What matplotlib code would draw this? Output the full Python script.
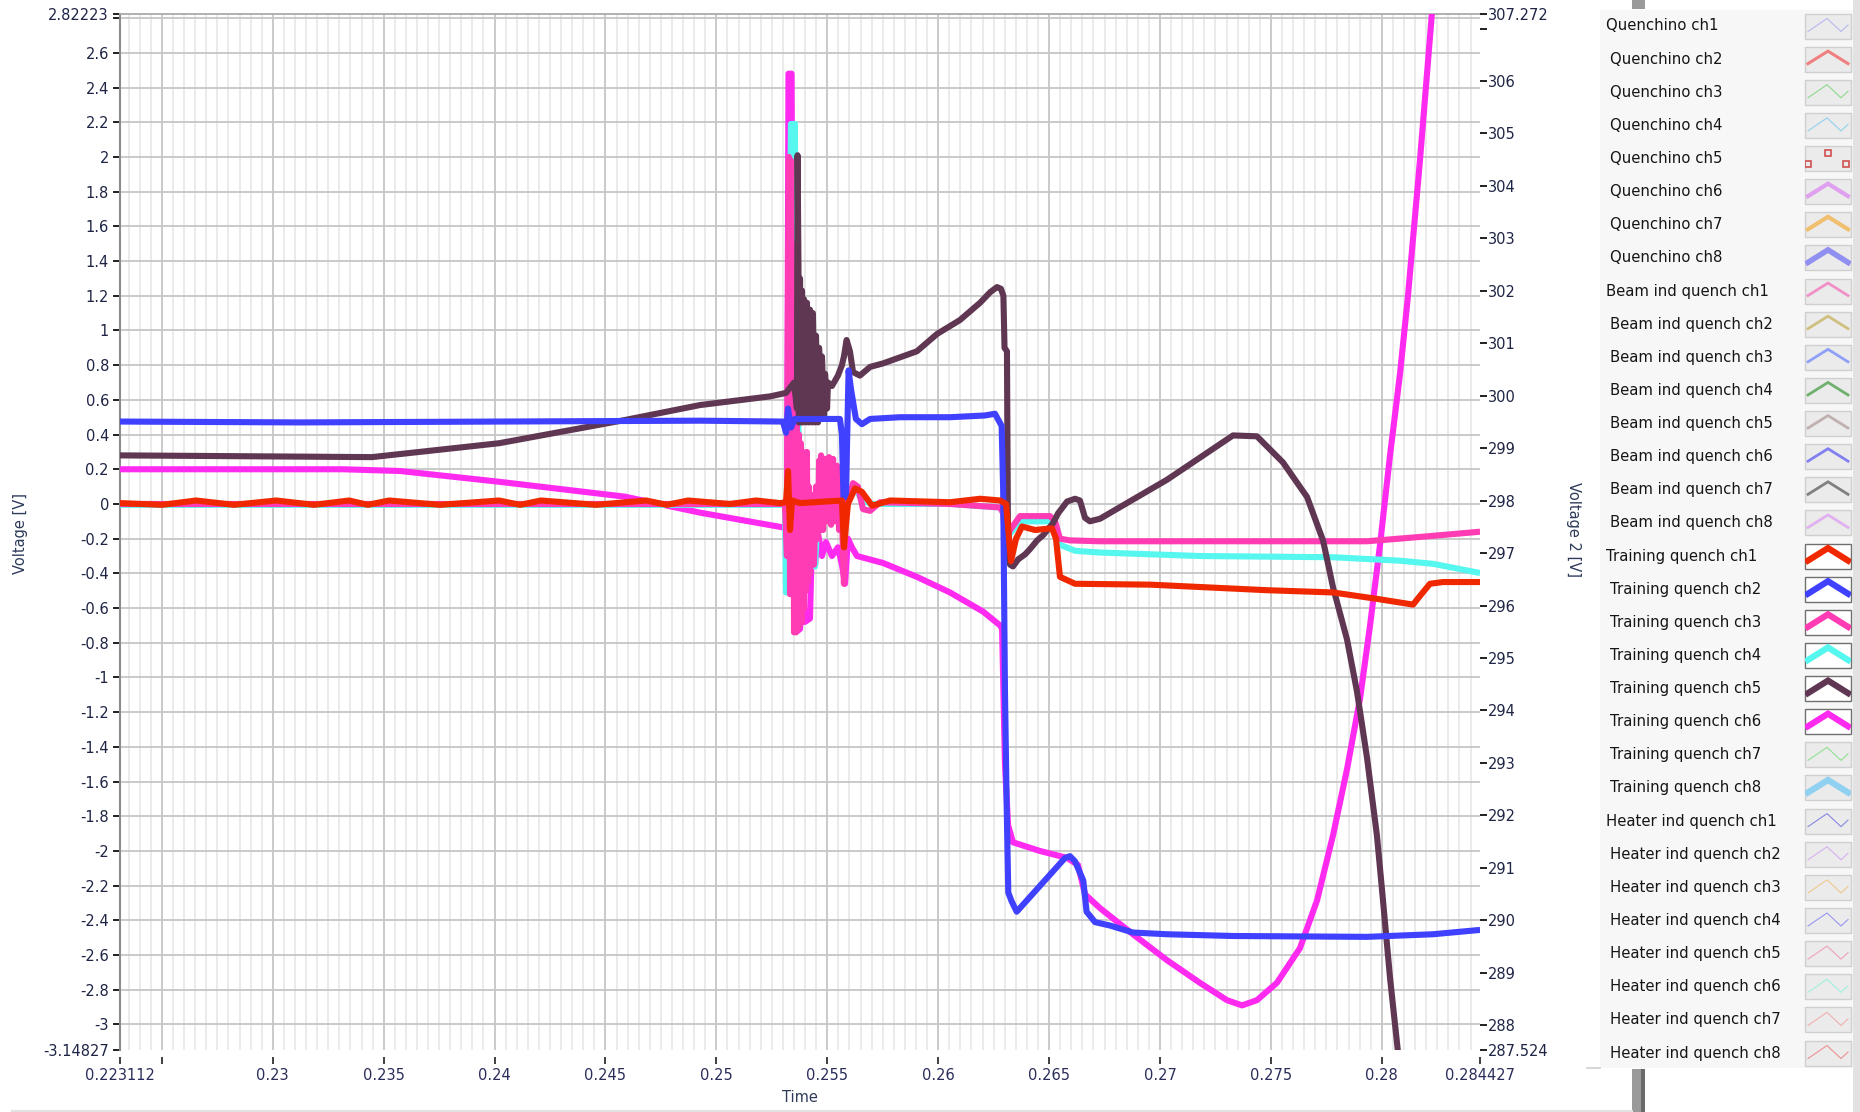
import matplotlib
matplotlib.use("Agg")
import matplotlib.pyplot as plt
from matplotlib.patches import Rectangle

plt.rcParams['font.family'] = ['DejaVu Sans']

# ---------------- data (time [s], voltage [V]) ----------------
t_ch1 = [0.22311, 0.22501, 0.22654, 0.22825, 0.23015, 0.23186, 0.23344, 0.23429, 0.23524, 0.23754,
         0.24020, 0.24115, 0.24209, 0.24457, 0.24683, 0.24777, 0.24872, 0.25061, 0.25179, 0.25287,
         0.25314, 0.25323, 0.25332, 0.25341, 0.25377, 0.25566, 0.25575,
         0.25593, 0.25625, 0.25656, 0.25702, 0.25783, 0.26053, 0.26189, 0.26279, 0.26306, 0.26328,
         0.26351, 0.26378, 0.26437, 0.26513, 0.26531, 0.26549, 0.26617, 0.26955, 0.27482, 0.27780,
         0.27978, 0.28141, 0.28172, 0.28217, 0.28276, 0.28443]
v_ch1 = [0.005, -0.005, 0.02, -0.005, 0.02, -0.005, 0.02, -0.005, 0.02, -0.005,
         0.02, -0.005, 0.02, -0.005, 0.02, -0.005, 0.02, 0.0, 0.02, 0.005,
         0.01, 0.19, -0.15, 0.02, 0.005, 0.02, -0.25,
         0.0, 0.09, 0.07, -0.01, 0.02, 0.01, 0.03, 0.02, 0.0, -0.33,
         -0.2, -0.13, -0.15, -0.14, -0.2, -0.42, -0.46, -0.465, -0.497, -0.51,
         -0.547, -0.58, -0.53, -0.46, -0.45, -0.45]

t_ch2 = [0.22311, 0.23123, 0.24024, 0.24926, 0.25300, 0.25314, 0.25323, 0.25336, 0.25354, 0.25557,
         0.25566, 0.25573, 0.25584, 0.25596, 0.25607, 0.25629, 0.25656, 0.25693, 0.25828, 0.26053,
         0.26211, 0.26256, 0.26286, 0.26293, 0.26301, 0.26309, 0.26316, 0.26331, 0.26354, 0.26572,
         0.26594, 0.26617, 0.26654, 0.26669, 0.26707, 0.26775, 0.26878, 0.27032, 0.27329, 0.27933,
         0.28231, 0.28443]
v_ch2 = [0.475, 0.47, 0.475, 0.48, 0.475, 0.41, 0.55, 0.44, 0.49, 0.49,
         0.4, 0.04, 0.04, 0.77, 0.66, 0.49, 0.46, 0.49, 0.5, 0.5,
         0.51, 0.52, 0.45, 0.08, -1.075, -1.76, -2.24, -2.29, -2.35, -2.04,
         -2.03, -2.06, -2.17, -2.35, -2.41, -2.43, -2.47, -2.48, -2.49, -2.495,
         -2.48, -2.455]

t_ch3 = [0.22311, 0.25309, 0.25318, 0.25323, 0.25327, 0.25332, 0.25336, 0.25341, 0.25345, 0.25350,
         0.25354, 0.25359, 0.25363, 0.25368, 0.25372, 0.25377, 0.25381, 0.25386, 0.25390, 0.25395,
         0.25399, 0.25404, 0.25408, 0.25413, 0.25417, 0.25422, 0.25431, 0.25440, 0.25449, 0.25458,
         0.25463, 0.25467, 0.25472, 0.25481, 0.25490, 0.25499, 0.25508, 0.25517, 0.25526, 0.25535,
         0.25544, 0.25553, 0.25562, 0.25571, 0.25575, 0.25584, 0.25598, 0.25616, 0.25638, 0.25661,
         0.25693, 0.25738, 0.26053, 0.26279, 0.26292, 0.26306, 0.26324, 0.26369, 0.26504, 0.26527,
         0.26549, 0.26594, 0.26730, 0.27933, 0.28172, 0.28443]
v_ch3 = [0.0, 0.0, -0.3, 1.2, 2.0, -0.52, 1.98, -0.4, 1.5, -0.74,
         0.48, -0.74, 0.45, -0.72, 0.4, -0.7, 0.35, -0.68, 0.3, -0.6,
         0.25, -0.5, 0.3, -0.45, 0.1, -0.4, 0.05, -0.35, 0.1, -0.2,
         0.25, -0.15, 0.28, -0.15, 0.26, -0.1, 0.27, -0.12, 0.26, -0.1,
         0.22, -0.15, 0.15, -0.3, -0.46, 0.0, 0.03, 0.12, 0.1, -0.03,
         -0.04, 0.01, 0.0, -0.02, -0.05, -0.2, -0.15, -0.07, -0.07, -0.1,
         -0.2, -0.21, -0.215, -0.215, -0.19, -0.16]

t_ch4 = [0.22311, 0.25309, 0.25314, 0.25323, 0.25327, 0.25336, 0.25354, 0.25359, 0.25363, 0.25368,
         0.25372, 0.25386, 0.25390, 0.25399, 0.25408, 0.25422, 0.25435, 0.25445, 0.25458, 0.25476,
         0.25494, 0.25512, 0.25530, 0.25548, 0.25566, 0.25575, 0.25584, 0.25602, 0.25625, 0.25647,
         0.25693, 0.26053, 0.26279, 0.26292, 0.26306, 0.26324, 0.26369, 0.26504, 0.26527, 0.26549,
         0.26617, 0.26730, 0.27180, 0.27780, 0.28082, 0.28231, 0.28443]
v_ch4 = [-0.005, -0.005, -0.51, -0.51, 0.5, 2.19, 2.19, 0.7, 0.64, 0.7,
         0.2, -0.3, -0.36, -0.1, 0.05, 0.0, -0.3, -0.36, 0.0, 0.22,
         0.1, 0.2, 0.1, 0.15, 0.05, -0.2, 0.05, 0.08, 0.1, 0.04,
         0.0, 0.0, -0.02, -0.05, -0.2, -0.17, -0.1, -0.1, -0.15, -0.235,
         -0.27, -0.28, -0.30, -0.307, -0.327, -0.345, -0.398]

t_ch5 = [0.22311, 0.23447, 0.24020, 0.24588, 0.24926, 0.25242, 0.25314, 0.25350, 0.25363, 0.25366,
         0.25370, 0.25372, 0.25377, 0.25381, 0.25386, 0.25390, 0.25395, 0.25404, 0.25408, 0.25417,
         0.25422, 0.25431, 0.25435, 0.25445, 0.25449, 0.25458, 0.25463, 0.25472, 0.25476, 0.25485,
         0.25490, 0.25499, 0.25503, 0.25521, 0.25548, 0.25566, 0.25575, 0.25587, 0.25602, 0.25616,
         0.25647, 0.25693, 0.25751, 0.25904, 0.25995, 0.26098, 0.26189, 0.26234, 0.26265, 0.26283,
         0.26294, 0.26299, 0.26310, 0.26315, 0.26324, 0.26337, 0.26360, 0.26392, 0.26414, 0.26446,
         0.26473, 0.26518, 0.26540, 0.26581, 0.26617, 0.26639, 0.26662, 0.26684, 0.26730, 0.27032,
         0.27329, 0.27437, 0.27554, 0.27663, 0.27735, 0.27780, 0.27843, 0.27888, 0.27933, 0.27978,
         0.28005, 0.28037, 0.28073, 0.28105]
v_ch5 = [0.28, 0.27, 0.35, 0.484, 0.57, 0.62, 0.64, 0.70, 0.55, 2.01,
         1.37, 0.47, 1.3, 0.47, 1.23, 0.47, 1.18, 0.47, 1.16, 0.47,
         1.12, 0.47, 1.1, 0.47, 0.97, 0.47, 0.9, 0.5, 0.85, 0.5,
         0.75, 0.55, 0.7, 0.68, 0.74, 0.8, 0.85, 0.945, 0.88, 0.76,
         0.74, 0.79, 0.81, 0.88, 0.98, 1.06, 1.16, 1.22, 1.25, 1.24,
         1.2, 0.9, 0.88, -0.28, -0.35, -0.36, -0.32, -0.29, -0.26, -0.21,
         -0.18, -0.11, -0.055, 0.014, 0.03, 0.02, -0.08, -0.1, -0.085, 0.14,
         0.395, 0.39, 0.24, 0.04, -0.21, -0.48, -0.78, -1.08, -1.46, -1.91,
         -2.28, -2.73, -3.16, -3.6]

t_ch6 = [0.22311, 0.23317, 0.23574, 0.24020, 0.24588, 0.24926, 0.25300, 0.25318, 0.25325, 0.25339,
         0.25345, 0.25354, 0.25363, 0.25377, 0.25390, 0.25399, 0.25422, 0.25431, 0.25445, 0.25458,
         0.25476, 0.25494, 0.25521, 0.25548, 0.25566, 0.25580, 0.25593, 0.25611, 0.25634, 0.25751,
         0.25904, 0.26053, 0.26202, 0.26279, 0.26288, 0.26301, 0.26315, 0.26337, 0.26459, 0.26581,
         0.26630, 0.26662, 0.26730, 0.26878, 0.27032, 0.27180, 0.27302, 0.27370, 0.27437, 0.27527,
         0.27631, 0.27708, 0.27780, 0.27843, 0.27902, 0.27947, 0.27992, 0.28037, 0.28082, 0.28118,
         0.28172, 0.28226, 0.28262]
v_ch6 = [0.2, 0.2, 0.19, 0.128, 0.042, -0.05, -0.135, -0.14, 2.48, 2.48,
         0.5, -0.3, -0.735, -0.72, -0.5, -0.68, -0.66, -0.2, -0.35, -0.17,
         -0.3, -0.22, -0.3, -0.25, -0.35, -0.46, -0.2, -0.25, -0.3, -0.34,
         -0.42, -0.51, -0.62, -0.7, -0.72, -1.5, -1.85, -1.95, -2.0, -2.04,
         -2.08, -2.25, -2.33, -2.48, -2.63, -2.76, -2.86, -2.89, -2.86, -2.76,
         -2.56, -2.285, -1.91, -1.53, -1.12, -0.7, -0.235, 0.28, 0.75, 1.2,
         1.98, 2.83, 3.4]

trace_colors = ['#f02800', '#4040ff', '#ff3cb4', '#55f7ef', '#603752', '#ff2af0']
trace_order = [6, 4, 3, 5, 2, 1]      # drawing order, bottom to top

x_ticks = [0.223112, 0.225, 0.23, 0.235, 0.24, 0.245, 0.25, 0.255, 0.26, 0.265, 0.27, 0.275, 0.28, 0.284427]
x_tick_labels = ['0.223112', '', '0.23', '0.235', '0.24', '0.245', '0.25', '0.255', '0.26', '0.265',
                 '0.27', '0.275', '0.28', '0.284427']
y_ticks = [-3.14827, -3.0, -2.8, -2.6, -2.4, -2.2, -2.0, -1.8, -1.6, -1.4, -1.2, -1.0, -0.8, -0.6, -0.4,
           -0.2, 0.0, 0.2, 0.4, 0.6, 0.8, 1.0, 1.2, 1.4, 1.6, 1.8, 2.0, 2.2, 2.4, 2.6, 2.8, 2.82223]
y_tick_labels = ['-3.14827', '-3', '-2.8', '-2.6', '-2.4', '-2.2', '-2', '-1.8', '-1.6', '-1.4', '-1.2',
                 '-1', '-0.8', '-0.6', '-0.4', '-0.2', '0', '0.2', '0.4', '0.6', '0.8', '1', '1.2', '1.4',
                 '1.6', '1.8', '2', '2.2', '2.4', '2.6', '', '2.82223']
y2_ticks = [287.524, 288, 289, 290, 291, 292, 293, 294, 295, 296, 297, 298, 299, 300, 301, 302, 303, 304,
            305, 306, 307, 307.272]
y2_tick_labels = ['287.524', '288', '289', '290', '291', '292', '293', '294', '295', '296', '297', '298',
                  '299', '300', '301', '302', '303', '304', '305', '306', '', '307.272']

legend_labels = ['Quenchino ch1', 'Quenchino ch2', 'Quenchino ch3', 'Quenchino ch4', 'Quenchino ch5',
                 'Quenchino ch6', 'Quenchino ch7', 'Quenchino ch8',
                 'Beam ind quench ch1', 'Beam ind quench ch2', 'Beam ind quench ch3', 'Beam ind quench ch4',
                 'Beam ind quench ch5', 'Beam ind quench ch6', 'Beam ind quench ch7', 'Beam ind quench ch8',
                 'Training quench ch1', 'Training quench ch2', 'Training quench ch3', 'Training quench ch4',
                 'Training quench ch5', 'Training quench ch6', 'Training quench ch7', 'Training quench ch8',
                 'Heater ind quench ch1', 'Heater ind quench ch2', 'Heater ind quench ch3',
                 'Heater ind quench ch4', 'Heater ind quench ch5', 'Heater ind quench ch6',
                 'Heater ind quench ch7', 'Heater ind quench ch8']
legend_colors = ['#b8b8f0', '#f08080', '#8cd88c', '#90d0f0', '#d05050', '#e0a0f0', '#f0c070', '#9090f0',
                 '#f090c8', '#d0c080', '#90a0f8', '#70b070', '#c0b0b0', '#8080f0', '#808080', '#e0b0f0',
                 '#f02800', '#4040ff', '#ff3cb4', '#55f7ef', '#603752', '#ff2af0', '#90e090', '#90d0f0',
                 '#8888e0', '#d8b0f0', '#f0c890', '#9898f0', '#f0a0c0', '#a0f0e0', '#f0b0b0', '#f09090']
legend_styles = ['zig', 'hat', 'zig', 'zig', 'pts', 'hat', 'hat', 'hat',
                 'hat', 'hat', 'hat', 'hat', 'hat', 'hat', 'hat', 'hat',
                 'on', 'on', 'on', 'on', 'on', 'on', 'zig', 'hat',
                 'zig', 'zig', 'zig', 'zig', 'zig', 'zig', 'zig', 'zig']
legend_widths = [0.8, 2.2, 0.8, 0.8, 1.0, 3.0, 3.0, 4.0,
                 2.0, 2.0, 2.0, 2.0, 2.0, 2.0, 2.0, 2.0,
                 4.5, 4.5, 4.5, 4.5, 4.5, 4.5, 0.8, 4.5,
                 0.8, 0.8, 0.8, 0.8, 0.8, 0.8, 0.8, 0.8]

# ---------------- figure ----------------
W, H = 1860, 1112
fig = plt.figure(figsize=(W / 100, H / 100), dpi=100)
fig.patch.set_facecolor('white')

# decoration layer in pixel coordinates
lax = fig.add_axes([0, 0, 1, 1], zorder=0)
lax.set_xlim(0, W)
lax.set_ylim(H, 0)
lax.axis('off')

ax = fig.add_axes([120 / W, (H - 1050.2) / H, 1360 / W, (1050.2 - 14.3) / H], zorder=2)
ax.set_facecolor('white')
ax.set_xlim(0.223112, 0.284427)
ax.set_ylim(-3.14827, 2.82223)

# grid
for k in range(447, 569):
    xpos = k * 0.0005
    if k % 10 == 0:
        ax.axvline(xpos, color='#c6c6c6', lw=1.3, zorder=0.5)
    else:
        ax.axvline(xpos, color='#e6e6e6', lw=1.1, zorder=0.4)
for k in range(-15, 15):
    ax.axhline(k * 0.2, color='#c6c6c6', lw=1.3, zorder=0.5)

series = {1: (t_ch1, v_ch1), 2: (t_ch2, v_ch2), 3: (t_ch3, v_ch3),
          4: (t_ch4, v_ch4), 5: (t_ch5, v_ch5), 6: (t_ch6, v_ch6)}
for z, ch in enumerate(trace_order):
    tt, vv = series[ch]
    ax.plot(tt, vv, color=trace_colors[ch - 1], lw=4.4, zorder=3 + z,
            solid_joinstyle='round', solid_capstyle='butt')

for s in ['right', 'bottom']:
    ax.spines[s].set_visible(False)
ax.spines['left'].set_color('#8c8c8c')
ax.spines['left'].set_linewidth(1.5)
ax.spines['top'].set_color('#aaaaaa')
ax.spines['top'].set_linewidth(1.3)
ax.spines['bottom'].set_position(('outward', 5))

ax.set_xticks(x_ticks)
ax.set_xticklabels(x_tick_labels)
ax.set_yticks(y_ticks)
ax.set_yticklabels(y_tick_labels)
ax.tick_params(axis='x', direction='out', length=5, width=1.3, color='#303030', pad=3,
               labelsize=10.5, labelcolor='#2a2d5a')
ax.tick_params(axis='y', direction='out', length=5, width=1.4, color='#202020', pad=3,
               labelsize=10.5, labelcolor='#1e2444')

ax2 = ax.twinx()
ax2.set_ylim(287.524, 307.272)
ax2.set_yticks(y2_ticks)
ax2.set_yticklabels(y2_tick_labels)
for s in ax2.spines.values():
    s.set_visible(False)
ax2.tick_params(axis='y', direction='out', length=5, width=1.4, color='#202020', pad=1,
                labelsize=10.5, labelcolor='#1e2444')

fig.text(21 / W, 1 - 534 / H, 'Voltage [V]', rotation=90, ha='center', va='center',
         fontsize=10.5, color='#2d3a5a')
fig.text(1573 / W, 1 - 530 / H, 'Voltage 2 [V]', rotation=-90, ha='center', va='center',
         fontsize=10.5, color='#2d3a5a')
fig.text(800 / W, 1 - 1097 / H, 'Time', ha='center', va='center', fontsize=10.5, color='#2d3a5a')

# ---------------- legend panel ----------------
lax.add_patch(Rectangle((1600, 10), 253, 1058, facecolor='#f7f7f7', edgecolor='none'))
lax.add_patch(Rectangle((1853, 0), 7, 1112, facecolor='#e2e2e2', edgecolor='none'))
lax.add_patch(Rectangle((1632, 0), 13, 9, facecolor='#9a9a9a', edgecolor='none'))
lax.add_patch(Rectangle((1632, 1069), 13, 43, facecolor='#9a9a9a', edgecolor='none'))
lax.add_patch(Rectangle((1641, 1069), 4, 43, facecolor='#6a6a6a', edgecolor='none'))
lax.plot([12, 1632], [1110.5, 1110.5], color='#e2e2e2', lw=1.5)
lax.plot([1587, 1600], [1067.5, 1067.5], color='#d0d0d0', lw=1.2)

for i, (lab, col, sty, lw) in enumerate(zip(legend_labels, legend_colors, legend_styles, legend_widths)):
    yc = 26 + 33.13 * i
    xt = 1606 if lab.endswith('ch1') else 1610
    lax.text(xt, yc, lab, ha='left', va='center', fontsize=10.7, color='#151515')
    active = sty == 'on'
    box = Rectangle((1805, yc - 12.5), 46, 25, facecolor='white' if active else '#ebebeb',
                    edgecolor='#707070' if active else '#cfcfcf', lw=1.0, zorder=2)
    lax.add_patch(box)
    if sty in ('hat', 'on'):
        ln, = lax.plot([1808, 1828, 1848], [yc + 4.5, yc - 8, yc + 4.5], color=col, lw=lw, zorder=3,
                       solid_joinstyle='miter')
        ln.set_clip_path(box)
    elif sty == 'zig':
        ln, = lax.plot([1808, 1827, 1841, 1848], [yc + 5.5, yc - 7.5, yc + 5.5, yc - 1], color=col,
                       lw=lw, zorder=3)
        ln.set_clip_path(box)
    else:
        pts, = lax.plot([1808, 1828, 1846], [yc + 5, yc - 6, yc + 5], ls='none', marker='s',
                        markersize=5, markerfacecolor='none', markeredgecolor=col, markeredgewidth=1.2,
                        zorder=3)
        pts.set_clip_path(box)

fig.savefig('out.png', dpi=100)
